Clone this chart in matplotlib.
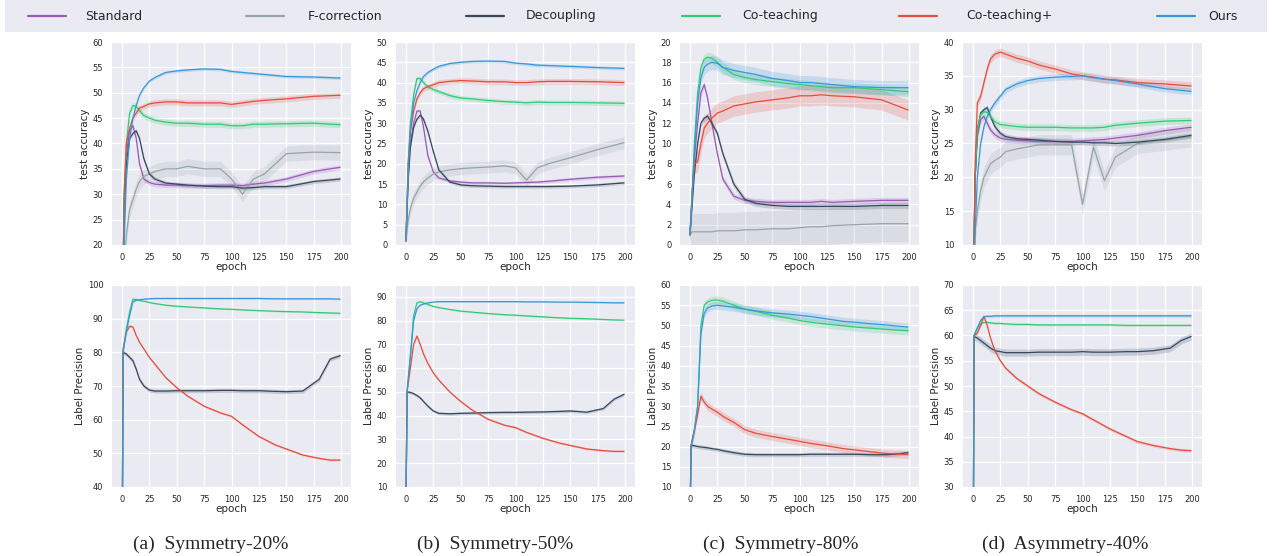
import matplotlib.pyplot as plt
import seaborn as sns

METHODS = ["Standard", "F-correction", "Decoupling", "Co-teaching", "Co-teaching+", "Ours"]
COLORS = ["#9b59b6", "#95a5a6", "#34495e", "#2ecc71", "#e74c3c", "#3498db"]
CAPTIONS = ["(a)  Symmetry-20%", "(b)  Symmetry-50%", "(c)  Symmetry-80%", "(d)  Asymmetry-40%"]

EPOCH_TOP = [0, 2, 4, 7, 10, 13, 16, 20, 25, 30, 40, 50, 60, 75, 90, 100, 110, 120, 130, 150, 175, 199]
EPOCH_BOTTOM = [0, 1, 4, 7, 10, 13, 16, 20, 25, 30, 40, 50, 60, 75, 90, 100, 110, 125, 140, 150, 165, 180, 190, 199]

# test accuracy (top row)
acc_a = {
    "Standard":     [1, 28, 38, 42.5, 43.5, 41, 36, 33, 32.3, 32, 31.8, 31.8, 31.7, 31.7, 31.8, 31.8, 31.7, 32, 32.2, 33, 34.5, 35.3],
    "F-correction": [1, 15, 22, 27, 29, 31, 32.5, 33.5, 34, 34.5, 35, 35, 35.5, 35, 35, 33, 30, 33, 34, 38, 38.3, 38.2],
    "Decoupling":   [1, 27, 36, 41, 42, 42.5, 41, 37, 34, 33, 32.2, 32, 31.8, 31.6, 31.5, 31.5, 31.2, 31.3, 31.5, 31.5, 32.5, 33],
    "Co-teaching":  [1, 30, 40, 46, 47.5, 47.3, 46.5, 45.5, 45, 44.6, 44.2, 44, 44, 43.8, 43.8, 43.5, 43.5, 43.8, 43.8, 43.9, 44, 43.7],
    "Co-teaching+": [1, 30, 40, 43, 45, 46, 47, 47.3, 47.8, 48, 48.2, 48.2, 48, 48, 48, 47.7, 48, 48.3, 48.5, 48.8, 49.3, 49.5],
    "Ours":         [1, 20, 33, 41, 45, 47.5, 49.5, 51, 52.3, 53, 54, 54.3, 54.5, 54.7, 54.6, 54.2, 54, 53.8, 53.6, 53.2, 53.1, 52.9],
}
acc_b = {
    "Standard":     [1, 17, 25, 30, 33, 33, 29, 22, 18, 16.5, 15.8, 15.5, 15.3, 15.3, 15.2, 15.3, 15.4, 15.5, 15.7, 16.2, 16.7, 17],
    "F-correction": [1, 6, 9, 11.5, 13, 14.5, 15.5, 16.5, 17.5, 18, 18.5, 18.8, 19, 19.2, 19.5, 19, 16, 19, 20, 21.5, 23.5, 25.2],
    "Decoupling":   [1, 16, 24, 29, 31, 32, 31, 28, 23, 18.5, 15.5, 14.8, 14.6, 14.5, 14.4, 14.4, 14.4, 14.4, 14.4, 14.5, 14.8, 15.3],
    "Co-teaching":  [1, 20, 30, 37, 41, 41, 40, 39, 38.3, 37.8, 36.8, 36.2, 36, 35.6, 35.3, 35.2, 35, 35.2, 35.1, 35.1, 35, 34.9],
    "Co-teaching+": [1, 20, 28, 33, 36, 37.5, 38.5, 39, 39.5, 40, 40.3, 40.5, 40.4, 40.2, 40.2, 40, 40, 40.2, 40.3, 40.3, 40.2, 40],
    "Ours":         [1, 18, 28, 35, 38, 40, 41.5, 42.5, 43.3, 44, 44.7, 45, 45.2, 45.3, 45.2, 44.8, 44.6, 44.3, 44.2, 44, 43.7, 43.5],
}
acc_c = {
    "Standard":     [1, 5, 8.5, 12, 15, 15.8, 14.5, 12, 9, 6.5, 4.8, 4.4, 4.3, 4.2, 4.2, 4.2, 4.2, 4.3, 4.2, 4.3, 4.4, 4.4],
    "F-correction": [1, 1.3, 1.3, 1.3, 1.3, 1.3, 1.3, 1.3, 1.4, 1.4, 1.4, 1.5, 1.5, 1.6, 1.6, 1.7, 1.8, 1.8, 1.9, 2, 2.1, 2.1],
    "Decoupling":   [1, 4, 7, 10, 12, 12.5, 12.7, 12, 11, 9, 6, 4.5, 4.1, 3.9, 3.8, 3.8, 3.8, 3.8, 3.8, 3.8, 3.9, 3.9],
    "Co-teaching":  [1, 5, 10, 15, 17.5, 18.3, 18.5, 18.4, 18, 17.5, 16.8, 16.5, 16.3, 16.1, 15.9, 15.8, 15.7, 15.6, 15.5, 15.5, 15.3, 15.1],
    "Co-teaching+": [1, 5, 8, 8.2, 10, 11.5, 12, 12.5, 13, 13.2, 13.7, 13.9, 14.1, 14.3, 14.5, 14.7, 14.7, 14.8, 14.7, 14.6, 14.3, 13.3],
    "Ours":         [1, 5, 9, 14, 16.5, 17.5, 17.8, 18, 17.9, 17.5, 17.2, 17, 16.8, 16.4, 16.2, 16, 16, 15.9, 15.8, 15.6, 15.5, 15.5],
}
acc_d = {
    "Standard":     [1, 20, 26, 28.5, 29, 28, 27, 26.3, 25.8, 25.6, 25.5, 25.4, 25.3, 25.3, 25.3, 25.4, 25.5, 25.6, 25.8, 26.2, 26.9, 27.4],
    "F-correction": [1, 12, 15, 18, 20, 21, 22, 22.5, 23, 23.8, 24.2, 24.5, 24.8, 24.8, 24.8, 16, 24.5, 19.5, 23, 25, 25.5, 26],
    "Decoupling":   [1, 20, 27, 29.5, 30, 30.3, 29, 27.5, 26.5, 26, 25.7, 25.6, 25.5, 25.3, 25.2, 25.2, 25.1, 25.1, 25, 25.2, 25.6, 26.2],
    "Co-teaching":  [1, 20, 27, 29.3, 29.7, 29.6, 29, 28.2, 27.8, 27.7, 27.5, 27.4, 27.4, 27.4, 27.3, 27.3, 27.3, 27.4, 27.7, 28, 28.3, 28.4],
    "Co-teaching+": [1, 22, 31, 32, 34, 36, 37.5, 38.2, 38.5, 38.2, 37.6, 37.2, 36.6, 36, 35.3, 35, 34.8, 34.5, 34.4, 34, 33.8, 33.5],
    "Ours":         [1, 12, 20, 25, 27.5, 29, 30, 31, 32, 33, 33.8, 34.3, 34.6, 34.8, 34.9, 35, 34.7, 34.5, 34.3, 33.8, 33.1, 32.7],
}

# label precision (bottom row)
prec_a = {
    "Decoupling":   [0, 80, 79.5, 78.5, 77.5, 75, 72, 70, 68.8, 68.5, 68.5, 68.6, 68.6, 68.6, 68.7, 68.7, 68.6, 68.6, 68.4, 68.3, 68.5, 72, 78, 79],
    "Co-teaching":  [0, 80, 87, 92, 95.8, 95.7, 95.4, 95.2, 94.8, 94.5, 94, 93.7, 93.5, 93.2, 92.9, 92.8, 92.6, 92.4, 92.2, 92.1, 92, 91.8, 91.7, 91.6],
    "Co-teaching+": [0, 81, 86, 87.8, 87.5, 85, 83, 81, 78.5, 76.5, 72.5, 69.5, 67, 64, 62, 61, 58.5, 55, 52.5, 51.3, 49.5, 48.5, 48, 48],
    "Ours":         [0, 80, 86, 91, 95, 95.5, 95.6, 95.8, 95.9, 96, 96, 96, 96, 96, 96, 96, 96, 96, 95.9, 95.9, 95.9, 95.9, 95.9, 95.8],
}
prec_b = {
    "Decoupling":   [0, 50, 49.8, 49.3, 48.5, 47.5, 46, 44, 42, 41, 40.8, 41, 41.1, 41.3, 41.4, 41.4, 41.5, 41.6, 41.8, 42, 41.5, 43, 47, 49],
    "Co-teaching":  [0, 50, 65, 82, 87.5, 88, 87.5, 86.8, 86, 85.5, 84.7, 84, 83.6, 83, 82.5, 82.3, 82, 81.6, 81.2, 81, 80.8, 80.5, 80.3, 80.2],
    "Co-teaching+": [0, 50, 60, 70, 73.5, 70, 66, 62, 58, 55, 50, 46, 42.5, 38.5, 36, 35, 33, 30.5, 28.5, 27.5, 26, 25.3, 25, 25],
    "Ours":         [0, 50, 65, 80, 85, 86.5, 87, 87.5, 87.8, 88, 88, 88, 88, 88, 88, 88, 87.9, 87.9, 87.8, 87.8, 87.7, 87.6, 87.5, 87.5],
}
prec_c = {
    "Decoupling":   [0, 20.3, 20.2, 20, 19.9, 19.8, 19.7, 19.5, 19.3, 19, 18.5, 18.1, 18, 18, 18, 18, 18.1, 18.1, 18.1, 18.1, 18, 18, 18.2, 18.5],
    "Co-teaching":  [0, 20, 24, 30, 50, 55, 55.8, 56.2, 56.3, 56, 55, 54, 53.5, 52.5, 51.8, 51.2, 50.8, 50.3, 49.9, 49.6, 49.3, 49, 48.8, 48.7],
    "Co-teaching+": [0, 20.5, 24, 28, 32.5, 31, 30, 29.3, 28.5, 27.5, 26, 24.2, 23.3, 22.5, 21.8, 21.3, 20.8, 20.2, 19.5, 19.2, 18.7, 18.3, 18.2, 18],
    "Ours":         [0, 20, 24, 30, 48, 53, 54.3, 54.8, 55, 54.8, 54.5, 54, 53.6, 53.1, 52.8, 52.5, 52.2, 51.6, 51, 50.8, 50.4, 50.1, 49.8, 49.6],
}
prec_d = {
    "Decoupling":   [0, 59.8, 59.5, 59, 58.5, 58, 57.5, 57, 56.8, 56.6, 56.6, 56.6, 56.7, 56.7, 56.7, 56.8, 56.7, 56.7, 56.8, 56.8, 57, 57.5, 59, 59.8],
    "Co-teaching":  [0, 60, 61.5, 62.3, 62.6, 62.6, 62.5, 62.4, 62.4, 62.3, 62.2, 62.2, 62.1, 62.1, 62.1, 62.1, 62.1, 62.1, 62, 62, 62, 62, 62, 62],
    "Co-teaching+": [0, 60, 60.5, 62, 63.8, 62, 59.5, 57, 55, 53.5, 51.5, 50, 48.5, 46.8, 45.3, 44.5, 43.3, 41.5, 40, 39, 38.2, 37.6, 37.3, 37.2],
    "Ours":         [0, 60, 61.5, 63, 63.7, 63.8, 63.8, 63.9, 63.9, 63.9, 63.9, 63.9, 63.9, 63.9, 63.9, 63.9, 63.9, 63.9, 63.9, 63.9, 63.9, 63.9, 63.9, 63.9],
}

# half-width of the shaded spread, one per method
band_acc = [
    [0.5, 1.5, 0.4, 0.6, 0.6, 0.3],
    [0.4, 1.5, 0.4, 0.6, 0.7, 0.4],
    [0.3, 1.8, 0.3, 0.5, 1.0, 0.7],
    [0.5, 1.5, 0.4, 0.5, 0.6, 0.5],
]
band_prec = [
    [0.6, 0.2, 0.3, 0.2],
    [0.6, 0.3, 0.4, 0.2],
    [0.5, 1.0, 1.0, 1.0],
    [0.7, 0.2, 0.3, 0.3],
]

acc_panels = [acc_a, acc_b, acc_c, acc_d]
prec_panels = [prec_a, prec_b, prec_c, prec_d]
acc_ylims = [(20, 60, 5), (0, 50, 5), (0, 20, 2), (10, 40, 5)]
prec_ylims = [(40, 100, 10), (10, 95, 10), (10, 60, 5), (30, 70, 5)]

sns.set_style("darkgrid")
plt.rcParams['font.family'] = ['DejaVu Sans']

W, H = 1272, 556
fig = plt.figure(figsize=(W / 100, H / 100), dpi=100)

col_left = [111, 395, 679, 962]
col_width = 240
caption_x = [211, 495, 781, 1065]


def add_ax(x0, y_top, w, h):
    return fig.add_axes([x0 / W, 1 - (y_top + h) / H, w / W, h / H])


def style_ax(ax, ylim, ylabel):
    lo, hi, step = ylim
    ax.set_xlim(-10, 209)
    ax.set_ylim(lo, hi)
    ax.set_xticks(range(0, 201, 25))
    ticks = list(range(lo, hi + 1, step))
    ax.set_yticks(ticks)
    ax.tick_params(labelsize=6, pad=2, colors="#262626")
    ax.set_xlabel("epoch", fontsize=7.5, labelpad=0, color="#262626")
    ax.set_ylabel(ylabel, fontsize=7.5, labelpad=2, color="#262626")
    ax.grid(color="white", linewidth=0.9)


for i in range(4):
    ax = add_ax(col_left[i], 42, col_width, 203)
    data = acc_panels[i]
    for j, m in enumerate(METHODS):
        y = data[m]
        b = band_acc[i][j]
        ax.fill_between(EPOCH_TOP, [v - b for v in y], [v + b for v in y],
                        color=COLORS[j], alpha=0.2, lw=0)
        ax.plot(EPOCH_TOP, y, color=COLORS[j], lw=0.9)
    style_ax(ax, acc_ylims[i], "test accuracy")

    ax = add_ax(col_left[i], 285, col_width, 202)
    data = prec_panels[i]
    for k, m in enumerate(METHODS[2:]):
        j = k + 2
        y = data[m]
        b = band_prec[i][k]
        ax.fill_between(EPOCH_BOTTOM, [v - b for v in y], [v + b for v in y],
                        color=COLORS[j], alpha=0.2, lw=0)
        ax.plot(EPOCH_BOTTOM, y, color=COLORS[j], lw=0.9)
    style_ax(ax, prec_ylims[i], "Label Precision")

    fig.text(caption_x[i] / W, 1 - 544 / H, CAPTIONS[i], ha="center", va="center",
             fontsize=14, family="Liberation Serif")

# legend strip across the top
lax = fig.add_axes([5 / W, 1 - 32 / H, 1262 / W, 32 / H])
lax.set_facecolor("#eaeaf2")
lax.set_xlim(5, 1267)
lax.set_ylim(32, 0)
lax.set_xticks([])
lax.set_yticks([])
lax.grid(False)
for s in lax.spines.values():
    s.set_visible(False)
line_x = [28, 246, 466, 682, 899, 1157]
text_x = [85, 308, 526, 742, 966, 1208]
for j, m in enumerate(METHODS):
    lax.plot([line_x[j], line_x[j] + 38], [16, 16], color=COLORS[j], lw=1.6)
    lax.text(text_x[j], 16, m, fontsize=9, va="center", ha="left", color="#262626")

fig.savefig("out.png", dpi=100)
